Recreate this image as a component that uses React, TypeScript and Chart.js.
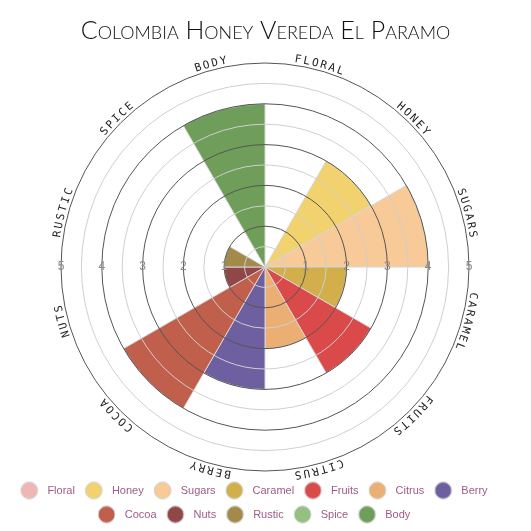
import React, { useEffect, useRef } from 'react';
import { Chart, registerables } from 'chart.js';

Chart.register(...registerables);

const titleText = 'Colombia Honey Vereda El Paramo';
const categories = ['Floral', 'Honey', 'Sugars', 'Caramel', 'Fruits', 'Citrus', 'Berry', 'Cocoa', 'Nuts', 'Rustic', 'Spice', 'Body'];
const values = [0, 3, 4, 2, 3, 2, 3, 4, 1, 1, 0, 4];
const colors = ['#f0b6b6', '#f2d26e', '#f7ca98', '#d2af4b', '#da4a4a', '#ecaf73', '#6e5fa0', '#c05f4b', '#914648', '#a38a4a', '#94c082', '#6e9e5a'];
const tickValues = [1, 2, 3, 4, 5];

const legendColor = '#a05a8a';
const segBorder = '#d6d6d6';

function makeDot(color: string) {
  const c = document.createElement('canvas');
  c.width = 26;
  c.height = 20;
  const g = c.getContext('2d')!;
  g.beginPath();
  g.arc(9.6, 10, 8.4, 0, Math.PI * 2);
  g.fillStyle = color;
  g.fill();
  g.strokeStyle = '#d0d0d0';
  g.lineWidth = 1;
  g.stroke();
  return c;
}

const labelsPlugin = {
  id: 'customLabels',
  afterLayout(chart: any) {
    const lg = chart.legend;
    if (lg) {
      lg.left -= 10;
      lg.right -= 10;
    }
  },
  afterDraw(chart: any) {
    const s = chart.scales.r;
    const ctx = chart.ctx as CanvasRenderingContext2D;
    const cx = s.xCenter;
    const cy = s.yCenter;
    const R = s.drawingArea;
    ctx.save();
    ctx.font = '12px "Liberation Sans"';
    ctx.fillStyle = '#8a8a8a';
    ctx.textAlign = 'center';
    ctx.textBaseline = 'middle';
    tickValues.forEach((v) => {
      const r = s.getDistanceFromCenterForValue(v);
      ctx.fillText(String(v), cx + r, cy);
      ctx.fillText(String(v), cx - r, cy);
    });
    ctx.font = '11px "DejaVu Sans Mono"';
    ctx.fillStyle = '#222';
    ctx.textBaseline = 'alphabetic';
    const n = categories.length;
    const rb = R + 3;
    const adv = 8.6;
    categories.forEach((c, i) => {
      const text = c.toUpperCase();
      const mid = ((i + 0.5) * 2 * Math.PI) / n;
      const step = adv / rb;
      const start = mid - ((text.length - 1) * step) / 2;
      for (let k = 0; k < text.length; k++) {
        const a = start + k * step;
        ctx.save();
        ctx.translate(cx + rb * Math.sin(a), cy - rb * Math.cos(a));
        ctx.rotate(a);
        ctx.fillText(text[k], 0, 0);
        ctx.restore();
      }
    });
    ctx.restore();
  },
};

export default function App() {
  const ref = useRef<HTMLCanvasElement | null>(null);
  useEffect(() => {
    if (!ref.current) return;
    const chart = new Chart(ref.current, {
      type: 'polarArea',
      data: {
        labels: categories,
        datasets: [
          {
            data: values,
            backgroundColor: colors,
            borderColor: segBorder,
            borderWidth: 1,
          },
        ],
      },
      options: {
        animation: false,
        responsive: false,
        layout: { padding: 0 },
        scales: {
          r: {
            min: 0,
            max: 5,
            ticks: { display: false, stepSize: 0.5 },
            grid: {
              z: 1,
              circular: true,
              color: (c: any) => (Number.isInteger(c.tick?.value) ? '#555' : '#cfcfcf'),
              lineWidth: 1,
            },
            angleLines: { display: false },
            pointLabels: { display: false },
          },
        },
        plugins: {
          title: {
            display: true,
            text: titleText,
            color: '#111',
            font: { family: 'Lato', size: 25, weight: 'small-caps 300' as any },
            padding: { top: 8, bottom: 17 },
          },
          legend: {
            position: 'bottom',
            labels: {
              usePointStyle: true,
              pointStyleWidth: 18.5,
              boxHeight: 11,
              padding: 13,
              color: legendColor,
              font: { family: '"Liberation Sans"', size: 11 },
              generateLabels: () =>
                categories.map((c, i) => ({
                  text: c,
                  fillStyle: colors[i],
                  strokeStyle: '#d0d0d0',
                  lineWidth: 1,
                  pointStyle: makeDot(colors[i]) as any,
                  fontColor: legendColor,
                  hidden: false,
                  index: i,
                })),
            },
          },
          tooltip: { enabled: false },
        },
      },
      plugins: [labelsPlugin],
    });
    return () => chart.destroy();
  }, []);
  return (
    <div style={{ width: 515, height: 522 }}>
      <canvas ref={ref} width={515} height={522} style={{ display: 'block' }} />
    </div>
  );
}
